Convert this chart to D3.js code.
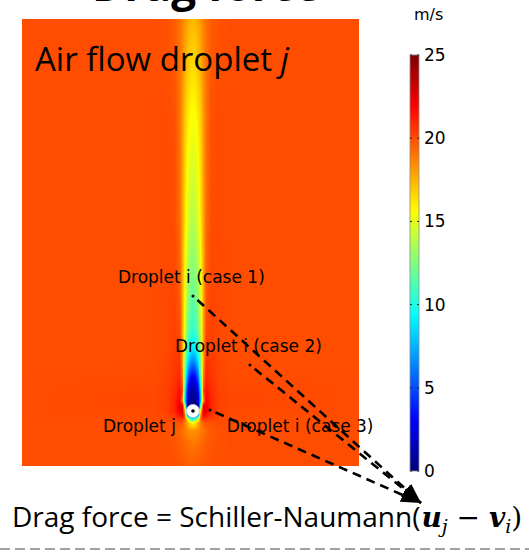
<!DOCTYPE html>
<html><head><meta charset="utf-8">
<script src="https://cdn.jsdelivr.net/npm/d3@7"></script>
<style>html,body{margin:0;padding:0;background:#fff;} svg{display:block}</style>
</head><body>
<svg id="chart" width="529" height="554"></svg>
<script>
// ---------------- DATA ----------------
// Speed field (m/s) of air around droplet j, tabulated on a grid:
// lateral offset from the wake axis and distance downstream of droplet j (both in droplet diameters)
const lateralOffsets = [0, 0.2, 0.4, 0.6, 0.8, 1.0, 1.4, 2.0, 3.0, 14];
const downstreamDist = [-4.23, -2.5, -1.5, -0.9, -0.6, -0.3, 0, 0.4, 0.8, 1.5, 2.4, 3.5, 4.7, 6.2, 9.3, 14.7, 22.4, 30.15];
const speedRows = [
  [19.6, 19.6, 19.7, 19.75, 19.8, 19.85, 19.9, 19.95, 20, 20],
  [19.0, 19.05, 19.15, 19.3, 19.45, 19.6, 19.8, 19.9, 20, 20],
  [18.2, 18.3, 18.5, 18.8, 19.1, 19.4, 19.7, 19.9, 20, 20],
  [15.5, 16.2, 17.5, 18.8, 19.6, 19.9, 20, 20, 20, 20],
  [9, 11, 15, 19.5, 20.8, 20.6, 20.3, 20.1, 20, 20],
  [0, 0, 4, 19, 22, 21.6, 20.7, 20.2, 20.05, 20],
  [0, 0, 0, 17, 22.6, 22.2, 21, 20.3, 20.1, 20],
  [0, 0, 0, 12, 22.4, 22.4, 21, 20.3, 20.1, 20],
  [0.2, 0.5, 2, 8, 18, 22, 21, 20.3, 20.1, 20],
  [0.6, 1, 2.8, 9, 20, 21.6, 20.8, 20.3, 20.1, 20],
  [2, 3, 5, 11, 19, 21, 20.6, 20.2, 20.05, 20],
  [5.5, 6.2, 8, 12.5, 18, 20.7, 20.5, 20.2, 20, 20],
  [8.6, 9.2, 10.5, 13.5, 17.8, 20.4, 20.4, 20.1, 20, 20],
  [10.5, 11, 12, 14.5, 17.7, 20.0, 20.3, 20.1, 20, 20],
  [12, 12.4, 13.3, 15.2, 17.6, 19.6, 20.2, 20.1, 20, 20],
  [13.8, 14.1, 14.8, 16.2, 17.8, 19.2, 20.0, 20.05, 20, 20],
  [15.4, 15.6, 16.1, 16.9, 18.0, 19.0, 19.9, 20.05, 20, 20],
  [17.4, 17.5, 17.8, 18.2, 18.7, 19.1, 19.6, 19.9, 20, 20]
];
const colorbarTicks = [0, 5, 10, 15, 20, 25];
const colorbarUnit = "m/s";
const fieldDomainX = [-13.15, 12.77];
const fieldDomainY = [-4.23, 30.15];
const speedDomain = [0, 25];
const dropletRadius = 0.5;
const dropletJ = {x: 0, y: 0};
const dropletILabels = ["Droplet i (case 1)", "Droplet i (case 2)", "Droplet i (case 3)"];
const dropletIX = [0, 4.38, 1.31];
const dropletIY = [8.85, 3.54, 0.08];
const arrowTarget = {x: 17.54, y: -7.08};
const titleText = "Air flow droplet ";
const titleItalic = "j";
const dropletJLabel = "Droplet j";
const equationPlain = "Drag force = Schiller-Naumann(";
const headerText = "Drag force";

// ---------------- LAYOUT ----------------
const annot = {
  labels: [ {x: -5.77, y: 9.85}, {x: -1.38, y: 4.56}, {x: 2.59, y: -1.59} ],
  jLabel: {x: -6.92, y: -1.59}
};

const svg = d3.select("#chart");
const x = d3.scaleLinear().domain(fieldDomainX).range([22, 359]);
const y = d3.scaleLinear().domain(fieldDomainY).range([466, 19]);

// jet colormap
const jet = d3.scaleLinear()
  .domain([0, 0.125, 0.375, 0.625, 0.875, 1].map(t => speedDomain[0] + t * (speedDomain[1] - speedDomain[0])))
  .range(["#00007f", "#0000ff", "#00ffff", "#ffff00", "#ff0000", "#7f0000"])
  .interpolate(d3.interpolateRgb)
  .clamp(true);

// ---- heat map raster ----
const W = Math.round(x.range()[1] - x.range()[0]);
const H = Math.round(y.range()[0] - y.range()[1]);
const canvas = document.createElement("canvas");
canvas.width = W; canvas.height = H;
const ctx = canvas.getContext("2d");
const img = ctx.createImageData(W, H);
const LUTN = 1024;
const lut = d3.range(LUTN).map(k => d3.rgb(jet(speedDomain[0] + (k / (LUTN - 1)) * (speedDomain[1] - speedDomain[0]))));
function locate(arr, v) {
  let i = d3.bisectRight(arr, v) - 1;
  i = Math.max(0, Math.min(arr.length - 2, i));
  let t = (v - arr[i]) / (arr[i + 1] - arr[i]);
  return [i, Math.max(0, Math.min(1, t))];
}
for (let j = 0; j < H; j++) {
  const yd = y.invert(y.range()[1] + j + 0.5);
  const [ri, rt] = locate(downstreamDist, yd);
  const r0 = speedRows[ri], r1 = speedRows[ri + 1];
  for (let i = 0; i < W; i++) {
    const xd = x.invert(x.range()[0] + i + 0.5);
    const [ci, ct] = locate(lateralOffsets, Math.abs(xd - dropletJ.x));
    const a = r0[ci] * (1 - ct) + r0[ci + 1] * ct;
    const b = r1[ci] * (1 - ct) + r1[ci + 1] * ct;
    const v = a * (1 - rt) + b * rt;
    let k = Math.round((v - speedDomain[0]) / (speedDomain[1] - speedDomain[0]) * (LUTN - 1));
    k = Math.max(0, Math.min(LUTN - 1, k));
    const c = lut[k];
    const p = (j * W + i) * 4;
    img.data[p] = c.r; img.data[p + 1] = c.g; img.data[p + 2] = c.b; img.data[p + 3] = 255;
  }
}
ctx.putImageData(img, 0, 0);
// slight smoothing
const canvas2 = document.createElement("canvas");
canvas2.width = W; canvas2.height = H;
const ctx2 = canvas2.getContext("2d");
ctx2.filter = "blur(0.6px)";
ctx2.drawImage(canvas, 0, 0);
ctx2.filter = "none";
svg.append("image")
  .attr("x", x.range()[0]).attr("y", y.range()[1])
  .attr("width", W).attr("height", H)
  .attr("preserveAspectRatio", "none")
  .attr("href", canvas.toDataURL());
svg.append("image")
  .attr("x", x.range()[0] + 2).attr("y", y.range()[1] + 2)
  .attr("width", W - 4).attr("height", H - 4)
  .attr("preserveAspectRatio", "none")
  .attr("href", (() => { const c3 = document.createElement("canvas"); c3.width = W - 4; c3.height = H - 4; c3.getContext("2d").drawImage(canvas2, 2, 2, W - 4, H - 4, 0, 0, W - 4, H - 4); return c3.toDataURL(); })());

// ---- header (cut off at top, as in the source slide) ----
svg.append("text")
  .attr("x", 92).attr("y", 1)
  .attr("font-family", "'Open Sans', sans-serif").attr("font-weight", 700)
  .attr("font-size", 44).attr("fill", "#000")
  .text(headerText);

// ---- title inside plot ----
const title = svg.append("text")
  .attr("x", 35).attr("y", 71)
  .attr("font-family", "'Open Sans', sans-serif")
  .attr("font-size", 33).attr("fill", "#000");
title.append("tspan").text(titleText);
title.append("tspan").attr("font-style", "italic").text(titleItalic);

// ---- colorbar ----
const cbX = 410, cbW = 9;
const cbY = d3.scaleLinear().domain(speedDomain).range([471, 55]);
const defs = svg.append("defs");
const grad = defs.append("linearGradient").attr("id", "cbgrad")
  .attr("x1", 0).attr("y1", 1).attr("x2", 0).attr("y2", 0);
d3.range(0, 51).forEach(k => {
  const v = speedDomain[0] + k / 50 * (speedDomain[1] - speedDomain[0]);
  grad.append("stop").attr("offset", (k / 50)).attr("stop-color", jet(v));
});
svg.append("rect")
  .attr("x", cbX).attr("y", cbY(speedDomain[1]))
  .attr("width", cbW).attr("height", cbY(speedDomain[0]) - cbY(speedDomain[1]))
  .attr("fill", "url(#cbgrad)").attr("stroke", "#8c8c8c").attr("stroke-width", 0.8);
const cbAxis = d3.axisRight(cbY).tickValues(colorbarTicks).tickSize(0).tickPadding(5);
const cbg = svg.append("g").attr("transform", `translate(${cbX + cbW},0)`).call(cbAxis);
cbg.select(".domain").remove();
cbg.selectAll("text").attr("font-family", "'DejaVu Sans', sans-serif").attr("font-size", 17).attr("fill", "#000");
const tickG = svg.append("g");
colorbarTicks.forEach(t => {
  tickG.append("line").attr("x1", cbX).attr("x2", cbX + 2).attr("y1", cbY(t)).attr("y2", cbY(t)).attr("stroke", "#222").attr("stroke-width", 1);
  tickG.append("line").attr("x1", cbX + cbW - 2).attr("x2", cbX + cbW).attr("y1", cbY(t)).attr("y2", cbY(t)).attr("stroke", "#222").attr("stroke-width", 1);
});
svg.append("text")
  .attr("x", 414).attr("y", 20)
  .attr("font-family", "'DejaVu Sans', sans-serif").attr("font-size", 16).attr("fill", "#000")
  .text(colorbarUnit);

// ---- droplet j ----
svg.append("circle")
  .attr("cx", x(dropletJ.x)).attr("cy", y(dropletJ.y))
  .attr("r", x(dropletRadius) - x(0))
  .attr("fill", "#fff").attr("stroke", "#d8d8d8").attr("stroke-width", 0.8);
svg.append("circle")
  .attr("cx", x(dropletJ.x)).attr("cy", y(dropletJ.y)).attr("r", 1.8).attr("fill", "#000");

// ---- labels ----
const labFont = "'DejaVu Sans', sans-serif";
dropletILabels.forEach((lab, k) => {
  svg.append("text").attr("x", x(annot.labels[k].x)).attr("y", y(annot.labels[k].y))
    .attr("font-family", labFont).attr("font-size", 17).attr("fill", "#000").text(lab);
});
svg.append("text").attr("x", x(annot.jLabel.x)).attr("y", y(annot.jLabel.y))
  .attr("font-family", labFont).attr("font-size", 17).attr("fill", "#000").text(dropletJLabel);

// ---- dashed arrows ----
defs.append("marker").attr("id", "ah")
  .attr("viewBox", "0 0 10 10").attr("refX", 10).attr("refY", 5)
  .attr("markerUnits", "userSpaceOnUse")
  .attr("markerWidth", 20).attr("markerHeight", 15)
  .attr("preserveAspectRatio", "none")
  .attr("orient", "auto")
  .append("path").attr("d", "M0,0 L10,5 L0,10 z").attr("fill", "#000");
dropletIX.forEach((dx, k) => {
  const x0 = x(dx), y0 = y(dropletIY[k]);
  const x1 = x(arrowTarget.x), y1 = y(arrowTarget.y);
  svg.append("path")
    .attr("d", `M${x0},${y0}L${x1},${y1}`)
    .attr("stroke", "#000").attr("stroke-width", 2.6)
    .attr("stroke-dasharray", "9,6").attr("stroke-dashoffset", 9)
    .attr("fill", "none").attr("marker-end", "url(#ah)");
  svg.append("circle").attr("cx", x0).attr("cy", y0).attr("r", 1.5).attr("fill", "#000");
});

// ---- equation ----
const eq = svg.append("text")
  .attr("x", 12).attr("y", 527)
  .attr("font-family", "'Open Sans', sans-serif")
  .attr("font-size", 28).attr("fill", "#000")
  .text(equationPlain);
const eqEnd = 12 + eq.node().getComputedTextLength();
const mathFont = "'DejaVu Serif', 'Liberation Serif', serif";
const m = svg.append("text").attr("x", eqEnd + 1).attr("y", 527)
  .attr("font-family", mathFont).attr("font-size", 28).attr("fill", "#000");
m.append("tspan").attr("font-weight", 700).attr("font-style", "italic").text("u");
m.append("tspan").attr("font-style", "italic").attr("font-size", 19).attr("dy", 6).text("j");
m.append("tspan").attr("dy", -6).text(" \u2212 ");
m.append("tspan").attr("font-weight", 700).attr("font-style", "italic").text("v");
m.append("tspan").attr("font-style", "italic").attr("font-size", 19).attr("dy", 6).text("i");
m.append("tspan").attr("dy", -6).text(")");

// ---- bottom dashed separator ----
svg.append("line").attr("x1", 0).attr("x2", 529).attr("y1", 549).attr("y2", 549)
  .attr("stroke", "#9ea3a8").attr("stroke-width", 2).attr("stroke-dasharray", "10,5");
</script>
</body></html>
